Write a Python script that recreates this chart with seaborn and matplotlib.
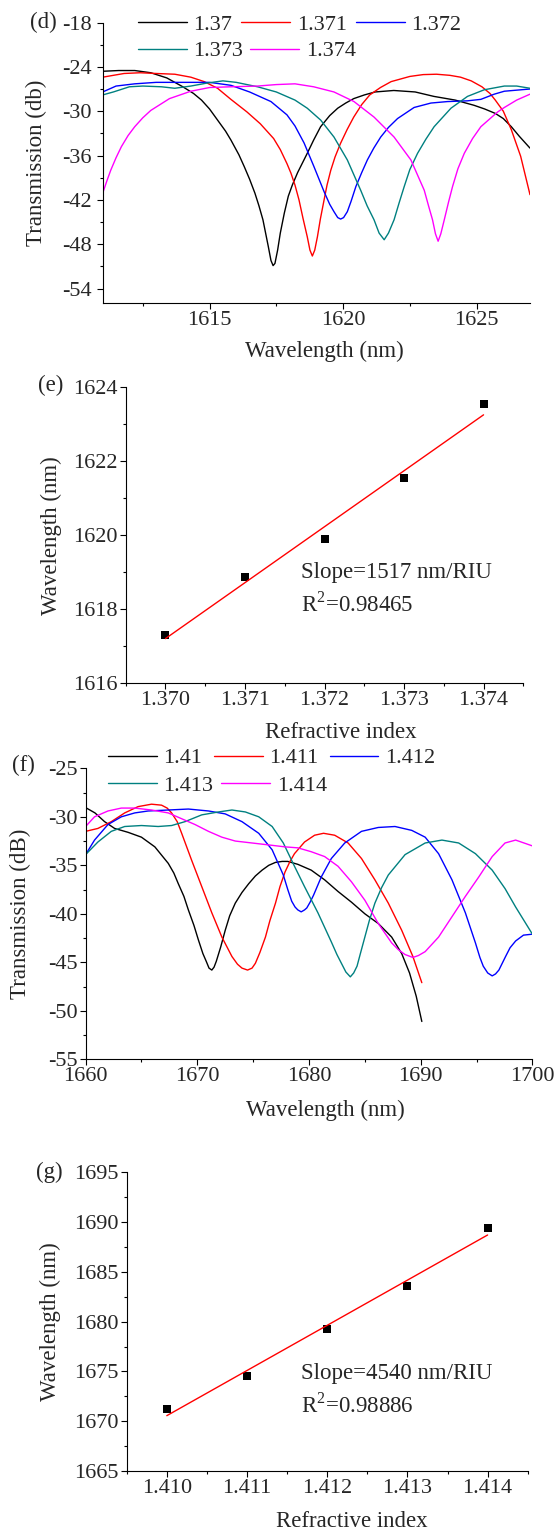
import numpy as np
import pandas as pd
import matplotlib
matplotlib.use('Agg')
import matplotlib.pyplot as plt
from matplotlib.ticker import MultipleLocator, FormatStrFormatter
import seaborn as sns

W, H = 558, 1530

######################################
############ DATA ####################
######################################

# (d) transmission spectra, n = 1.370 ... 1.374
d_labels = ['1.37', '1.371', '1.372', '1.373', '1.374']
d_wl_1 = [1611.0, 1611.6, 1612.2, 1612.8, 1613.4, 1614.0, 1614.4, 1614.7, 1615.0, 1615.3, 1615.6, 1615.8,
          1616.1, 1616.3, 1616.5, 1616.7, 1616.85, 1617.0, 1617.1, 1617.2, 1617.3, 1617.38, 1617.45,
          1617.55, 1617.65, 1617.8, 1617.95, 1618.1, 1618.3, 1618.66, 1618.9, 1619.16, 1619.5, 1619.8,
          1620.1, 1620.4, 1620.8, 1621.2, 1621.9, 1622.7, 1623.4, 1624.2, 1624.9, 1625.3, 1625.7,
          1626.0, 1626.3, 1626.6, 1627.0]
d_tr_1 = [-24.6, -24.5, -24.5, -24.8, -25.5, -26.7, -27.6, -28.5, -29.7, -31.2, -32.7, -33.9,
          -35.9, -37.5, -39.2, -41.1, -42.8, -44.7, -46.5, -48.3, -50.2, -50.9, -50.6,
          -48.8, -46.5, -43.8, -41.5, -40.0, -38.3, -35.7, -33.9, -32.1, -30.6, -29.6,
          -28.9, -28.3, -27.8, -27.4, -27.2, -27.4, -28.0, -28.5, -29.2, -29.7, -30.3,
          -31.0, -32.1, -33.4, -35.0]
d_wl_2 = [1611.0, 1611.8, 1612.4, 1613.0, 1613.7, 1614.3, 1614.8, 1615.3, 1615.8, 1616.4, 1616.9, 1617.4,
          1617.65, 1617.9, 1618.05, 1618.2, 1618.35, 1618.5, 1618.66, 1618.76, 1618.85, 1618.94, 1619.04,
          1619.15, 1619.29, 1619.4, 1619.54, 1619.7, 1619.9, 1620.15, 1620.4, 1620.7, 1621.0, 1621.4,
          1621.8, 1622.5, 1623.0, 1623.5, 1624.0, 1624.4, 1624.8, 1625.2, 1625.5, 1625.7, 1626.0,
          1626.3, 1626.65, 1627.0]
d_tr_2 = [-25.4, -24.9, -24.8, -24.9, -25.0, -25.4, -26.0, -26.9, -28.4, -30.1, -31.7, -33.7,
          -35.2, -37.1, -38.4, -40.0, -42.0, -44.5, -47.0, -48.8, -49.6, -48.8, -47.0,
          -44.6, -42.0, -40.0, -38.0, -36.2, -34.4, -32.5, -30.8, -29.1, -27.8, -26.8,
          -26.0, -25.3, -25.05, -25.0, -25.15, -25.4, -25.9, -26.7, -27.6, -28.5, -30.0,
          -32.5, -36.1, -41.3]
d_wl_3 = [1611.0, 1611.5, 1612.2, 1613.0, 1614.3, 1615.0, 1615.8, 1616.5, 1617.3, 1617.9, 1618.2, 1618.54,
          1618.91, 1619.29, 1619.5, 1619.66, 1619.8, 1619.91, 1620.02, 1620.16, 1620.3, 1620.48, 1620.7,
          1620.91, 1621.15, 1621.41, 1621.7, 1622.04, 1622.66, 1623.29, 1623.91, 1624.66, 1625.16,
          1625.66, 1626.04, 1627.0]
d_tr_3 = [-27.4, -26.6, -26.3, -26.1, -26.1, -26.1, -26.5, -27.4, -28.7, -30.5, -32.0, -34.3,
          -37.5, -40.9, -42.6, -43.6, -44.4, -44.6, -44.4, -43.6, -42.2, -40.2, -38.3,
          -36.6, -35.0, -33.5, -32.2, -31.0, -29.5, -28.9, -28.7, -28.6, -28.4,
          -27.7, -27.3, -27.0]
d_wl_4 = [1611.0, 1611.4, 1612.0, 1612.5, 1613.2, 1613.7, 1614.3, 1614.9, 1615.5, 1616.0, 1616.8, 1617.5,
          1618.2, 1618.66, 1619.16, 1619.66, 1620.16, 1620.66, 1620.9, 1621.16, 1621.35, 1621.54, 1621.7,
          1621.91, 1622.1, 1622.29, 1622.5, 1622.79, 1623.1, 1623.41, 1624.04, 1624.66, 1625.29,
          1626.04, 1626.5, 1627.0]
d_tr_4 = [-27.8, -27.4, -26.7, -26.6, -26.7, -26.9, -26.6, -26.2, -25.9, -26.1, -26.7, -27.4,
          -28.5, -29.6, -31.2, -33.5, -36.6, -40.7, -42.8, -44.7, -46.5, -47.4, -46.5,
          -44.7, -42.4, -40.2, -37.9, -35.7, -33.8, -32.1, -29.6, -28.0, -27.1,
          -26.6, -26.6, -26.9]
d_wl_5 = [1611.0, 1611.15, 1611.3, 1611.5, 1611.7, 1611.95, 1612.2, 1612.5, 1612.8, 1613.5, 1614.3, 1615.0,
          1615.8, 1616.8, 1617.5, 1618.2, 1618.9, 1619.66, 1620.41, 1621.16, 1621.91, 1622.54, 1623.04,
          1623.2, 1623.35, 1623.46, 1623.56, 1623.66, 1623.79, 1623.95, 1624.1, 1624.3, 1624.54,
          1624.85, 1625.16, 1625.79, 1626.04, 1626.5, 1627.0]
d_tr_5 = [-41.1, -39.5, -38.0, -36.3, -34.8, -33.3, -32.1, -30.9, -29.9, -28.3, -27.3, -26.8,
          -26.7, -26.6, -26.4, -26.3, -26.7, -27.4, -28.7, -30.8, -33.5, -36.6, -40.7,
          -42.8, -44.7, -46.6, -47.6, -46.6, -44.7, -42.3, -40.2, -37.8, -35.7,
          -33.7, -32.1, -30.1, -29.5, -28.5, -27.7]

# (e) resonance wavelength vs refractive index
e_n = [1.370, 1.371, 1.372, 1.373, 1.374]
e_wl = [1617.31, 1618.88, 1619.89, 1621.54, 1623.54]

# (f) transmission spectra, n = 1.410 ... 1.414
f_labels = ['1.41', '1.411', '1.412', '1.413', '1.414']
f_wl_1 = [1660.0, 1660.84, 1661.7, 1662.6, 1663.8, 1665.0, 1666.2, 1667.4, 1667.9, 1668.3, 1668.8, 1669.2,
          1669.7, 1670.1, 1670.5, 1670.8, 1671.05, 1671.3, 1671.5, 1671.7, 1672.1, 1672.5, 1672.9,
          1673.4, 1674.0, 1674.6, 1675.2, 1675.8, 1676.4, 1677.0, 1677.6, 1678.1, 1679.0, 1680.2,
          1681.4, 1682.6, 1683.8, 1685.0, 1686.2, 1687.4, 1688.3, 1689.0, 1689.6, 1690.1]
f_tr_1 = [-29.05, -29.6, -30.5, -31.2, -31.6, -32.1, -33.1, -34.8, -35.8, -36.9, -38.2, -39.6,
          -41.2, -42.7, -44.1, -44.9, -45.6, -45.8, -45.5, -44.9, -43.4, -41.7, -40.2,
          -38.9, -37.8, -36.9, -36.1, -35.5, -35.0, -34.7, -34.6, -34.6, -34.9, -35.5,
          -36.5, -37.7, -38.8, -40.0, -41.0, -42.4, -44.1, -46.1, -48.5, -51.1]
f_wl_2 = [1660.0, 1661.1, 1662.3, 1663.5, 1664.7, 1665.9, 1666.8, 1667.3, 1667.7, 1668.2, 1668.6, 1669.5,
          1670.4, 1671.3, 1672.2, 1673.1, 1673.6, 1674.0, 1674.5, 1674.9, 1675.2, 1675.6, 1676.1,
          1676.5, 1677.0, 1677.4, 1677.85, 1678.3, 1678.7, 1679.6, 1680.5, 1681.3, 1682.3, 1683.5,
          1684.7, 1685.9, 1687.1, 1688.3, 1689.3, 1690.1]
f_tr_2 = [-31.5, -31.2, -30.5, -29.6, -28.95, -28.7, -28.8, -29.1, -29.6, -30.5, -31.7, -34.5,
          -37.2, -39.9, -42.4, -44.4, -45.2, -45.6, -45.8, -45.6, -45.1, -44.0, -42.4,
          -40.7, -38.9, -37.2, -35.7, -34.6, -33.8, -32.6, -31.9, -31.7, -31.9, -32.7,
          -34.3, -36.5, -38.9, -41.7, -44.4, -47.1]
f_wl_3 = [1660.0, 1660.8, 1662.0, 1663.2, 1664.4, 1665.6, 1667.4, 1669.2, 1671.0, 1672.5, 1674.0, 1675.5,
          1676.7, 1677.7, 1678.1, 1678.45, 1678.75, 1679.0, 1679.3, 1679.6, 1679.8, 1680.1, 1680.4,
          1681.1, 1682.0, 1683.2, 1684.7, 1686.2, 1687.7, 1689.2, 1690.4, 1691.6, 1692.8, 1694.0,
          1694.9, 1695.3, 1695.6, 1696.0, 1696.4, 1696.7, 1697.0, 1697.3, 1697.6, 1698.0, 1698.5,
          1699.2, 1700.0]
f_tr_3 = [-33.9, -32.4, -30.8, -30.0, -29.6, -29.4, -29.3, -29.2, -29.4, -29.7, -30.5, -31.7,
          -33.4, -36.0, -37.5, -38.7, -39.3, -39.6, -39.8, -39.6, -39.4, -38.8, -38.1,
          -36.2, -34.3, -32.7, -31.5, -31.1, -31.0, -31.4, -32.1, -33.8, -36.5, -39.9,
          -43.0, -44.5, -45.4, -46.1, -46.4, -46.2, -45.8, -45.1, -44.4, -43.5, -42.8,
          -42.2, -42.1]
f_wl_4 = [1660.0, 1661.1, 1662.3, 1663.5, 1665.0, 1666.5, 1667.7, 1668.9, 1670.4, 1671.9, 1673.1, 1674.3,
          1675.5, 1676.7, 1677.7, 1678.7, 1679.6, 1680.8, 1682.0, 1682.5, 1682.9, 1683.3, 1683.7,
          1684.0, 1684.3, 1684.6, 1685.0, 1685.4, 1685.9, 1686.5, 1687.1, 1688.6, 1690.4, 1691.9,
          1693.4, 1694.9, 1696.4, 1697.55, 1698.5, 1700.0]
f_tr_4 = [-33.9, -32.6, -31.5, -31.0, -30.9, -31.0, -30.9, -30.5, -29.8, -29.5, -29.3, -29.5,
          -30.0, -31.0, -32.7, -35.1, -37.2, -39.9, -42.9, -44.2, -45.1, -46.0, -46.5,
          -46.1, -45.4, -44.1, -42.4, -40.7, -38.9, -37.3, -36.0, -33.9, -32.7, -32.4,
          -32.7, -33.8, -35.5, -37.4, -39.3, -42.1]
f_wl_5 = [1660.0, 1660.8, 1662.0, 1663.2, 1664.4, 1665.9, 1667.4, 1668.6, 1669.8, 1671.0, 1672.2, 1673.4,
          1674.9, 1676.4, 1677.85, 1679.0, 1680.2, 1681.4, 1682.6, 1683.8, 1685.0, 1686.2, 1687.4,
          1688.0, 1688.6, 1689.3, 1689.8, 1690.4, 1691.6, 1692.8, 1694.0, 1695.2, 1696.4, 1697.55,
          1698.5, 1700.0]
f_tr_5 = [-31.0, -30.0, -29.4, -29.1, -29.1, -29.3, -29.6, -30.2, -30.8, -31.5, -32.1, -32.5,
          -32.7, -32.9, -33.1, -33.2, -33.6, -34.1, -35.1, -36.7, -38.6, -41.0, -43.0,
          -43.7, -44.2, -44.5, -44.3, -43.9, -42.4, -40.3, -38.2, -36.2, -34.1, -32.7,
          -32.4, -33.0]

# (g) resonance wavelength vs refractive index
g_n = [1.410, 1.411, 1.412, 1.413, 1.414]
g_wl = [1671.26, 1674.57, 1679.29, 1683.6, 1689.43]

colors = ['black', 'red', 'blue', '#008080', 'magenta']

######################################
############ STYLE ###################
######################################

sns.set_theme(style='ticks')
plt.rcParams['font.family'] = ['Liberation Serif', 'DejaVu Serif']
plt.rcParams['mathtext.fontset'] = 'custom'
plt.rcParams['mathtext.rm'] = 'Liberation Serif'
plt.rcParams['axes.unicode_minus'] = False
plt.rcParams['axes.linewidth'] = 0.8
plt.rcParams['xtick.direction'] = 'out'
plt.rcParams['ytick.direction'] = 'out'

fs = 16.5
fig = plt.figure(figsize=(W / 100, H / 100), dpi=100)


def box(left, top, right, bottom):
    return [left / W, 1 - bottom / H, (right - left) / W, (bottom - top) / H]


def style_axis(ax, ypad):
    sns.despine(ax=ax)
    ax.tick_params(which='major', length=4.3, width=0.8, labelsize=16, color='black')
    ax.tick_params(which='minor', length=2.5, width=0.8, color='black')
    ax.tick_params(axis='y', which='major', pad=ypad)
    ax.tick_params(axis='x', which='major', pad=1.5)
    for s in ax.spines.values():
        s.set_color('black')


def long_df(wls, trs, labels):
    parts = [pd.DataFrame({'wl': w, 'tr': t, 'n': lab}) for w, t, lab in zip(wls, trs, labels)]
    return pd.concat(parts, ignore_index=True)


def add_legend(ax, handles, labels, x_px, y_px, gap):
    leg = ax.legend(handles, labels, loc='center left', bbox_to_anchor=(x_px / W, 1 - y_px / H),
                    bbox_transform=fig.transFigure, ncol=len(handles), frameon=False,
                    borderpad=0, borderaxespad=0, handlelength=2.2, handletextpad=0.3,
                    columnspacing=gap, fontsize=16)
    ax.add_artist(leg)
    ax.legend_ = None  # keep it only as an artist, so it is not drawn twice


######################################
############ (d) #####################
######################################

ax = fig.add_axes(box(102.7, 22.5, 530, 303.3))
df_d = long_df([d_wl_1, d_wl_2, d_wl_3, d_wl_4, d_wl_5],
               [d_tr_1, d_tr_2, d_tr_3, d_tr_4, d_tr_5], d_labels)
sns.lineplot(data=df_d, x='wl', y='tr', hue='n', palette=colors, sort=False,
             estimator=None, legend=False, lw=1.0, ax=ax)
ax.set_xlim(1611, 1627)
ax.set_ylim(-56, -18)
ax.set_xticks([1615, 1620, 1625])
ax.xaxis.set_minor_locator(MultipleLocator(2.5))
ax.set_yticks(np.arange(-54, -17, 6))
ax.yaxis.set_minor_locator(MultipleLocator(3))
style_axis(ax, 3.5)
ax.set_xlabel('Wavelength (nm)', fontsize=fs)
ax.set_ylabel('Transmission (db)', fontsize=fs)
ax.xaxis.set_label_coords(0.518, -0.135)
ax.yaxis.set_label_coords(-0.13, 0.5)
lines = ax.get_lines()[:5]
add_legend(ax, lines[:3], d_labels[:3], 138, 24.5, 0.4)
add_legend(ax, lines[3:], d_labels[3:], 138, 51, 0.3)
fig.text(30 / W, 1 - 22 / H, '(d)', fontsize=fs, va='center', ha='left')

######################################
############ (e) #####################
######################################

ax = fig.add_axes(box(125.7, 387.3, 523.3, 683.3))
sns.regplot(x=e_n, y=e_wl, ci=None, truncate=True, marker='s', ax=ax,
            scatter_kws={'s': 36, 'color': 'black', 'zorder': 2, 'linewidths': 0, 'alpha': 1},
            line_kws={'color': 'red', 'lw': 1.0, 'zorder': 3})
ax.set_xlim(1.3695, 1.3745)
ax.set_ylim(1616, 1624)
ax.set_xticks(e_n)
ax.xaxis.set_major_formatter(FormatStrFormatter('%.3f'))
ax.xaxis.set_minor_locator(MultipleLocator(0.0005))
ax.set_yticks(np.arange(1616, 1625, 2))
ax.yaxis.set_minor_locator(MultipleLocator(1))
style_axis(ax, 1.5)
ax.set_xlabel('Refractive index', fontsize=fs)
ax.set_ylabel('Wavelength (nm)', fontsize=fs)
ax.xaxis.set_label_coords(0.5415, -0.13)
ax.yaxis.set_label_coords(-0.159, 0.5)
ax.text(1.3717, 1618.99, 'Slope=1517 nm/RIU', fontsize=fs, va='center', ha='left')
ax.text(1.3717, 1618.14, 'R$^{2}$=0.98465', fontsize=fs, va='center', ha='left')
fig.text(38 / W, 1 - 385 / H, '(e)', fontsize=fs, va='center', ha='left')

######################################
############ (f) #####################
######################################

ax = fig.add_axes(box(85.6, 768.3, 532.4, 1059.3))
df_f = long_df([f_wl_1, f_wl_2, f_wl_3, f_wl_4, f_wl_5],
               [f_tr_1, f_tr_2, f_tr_3, f_tr_4, f_tr_5], f_labels)
sns.lineplot(data=df_f, x='wl', y='tr', hue='n', palette=colors, sort=False,
             estimator=None, legend=False, lw=1.0, ax=ax)
ax.set_xlim(1660, 1700)
ax.set_ylim(-55, -25)
ax.set_xticks(np.arange(1660, 1701, 10))
ax.xaxis.set_minor_locator(MultipleLocator(5))
ax.set_yticks(np.arange(-55, -24, 5))
ax.yaxis.set_minor_locator(MultipleLocator(2.5))
style_axis(ax, 1.5)
ax.set_xlabel('Wavelength (nm)', fontsize=fs)
ax.set_ylabel('Transmission (dB)', fontsize=fs)
ax.xaxis.set_label_coords(0.536, -0.14)
ax.yaxis.set_label_coords(-0.122, 0.5)
lines = ax.get_lines()[:5]
add_legend(ax, lines[:3], f_labels[:3], 108, 758, 0.5)
add_legend(ax, lines[3:], f_labels[3:], 108, 786, 0.35)
fig.text(12 / W, 1 - 765 / H, '(f)', fontsize=fs, va='center', ha='left')

######################################
############ (g) #####################
######################################

ax = fig.add_axes(box(126.7, 1172.3, 527.7, 1471))
sns.regplot(x=g_n, y=g_wl, ci=None, truncate=True, marker='s', ax=ax,
            scatter_kws={'s': 36, 'color': 'black', 'zorder': 2, 'linewidths': 0, 'alpha': 1},
            line_kws={'color': 'red', 'lw': 1.0, 'zorder': 3})
ax.set_xlim(1.4095, 1.4145)
ax.set_ylim(1665, 1695)
ax.set_xticks(g_n)
ax.xaxis.set_major_formatter(FormatStrFormatter('%.3f'))
ax.xaxis.set_minor_locator(MultipleLocator(0.0005))
ax.set_yticks(np.arange(1665, 1696, 5))
ax.yaxis.set_minor_locator(MultipleLocator(2.5))
style_axis(ax, 1.5)
ax.set_xlabel('Refractive index', fontsize=fs)
ax.set_ylabel('Wavelength (nm)', fontsize=fs)
ax.xaxis.set_label_coords(0.562, -0.133)
ax.yaxis.set_label_coords(-0.164, 0.5)
ax.text(1.41167, 1674.8, 'Slope=4540 nm/RIU', fontsize=fs, va='center', ha='left')
ax.text(1.41167, 1671.56, 'R$^{2}$=0.98886', fontsize=fs, va='center', ha='left')
fig.text(36 / W, 1 - 1172 / H, '(g)', fontsize=fs, va='center', ha='left')

plt.savefig('out.png', dpi=100)
plt.close()
